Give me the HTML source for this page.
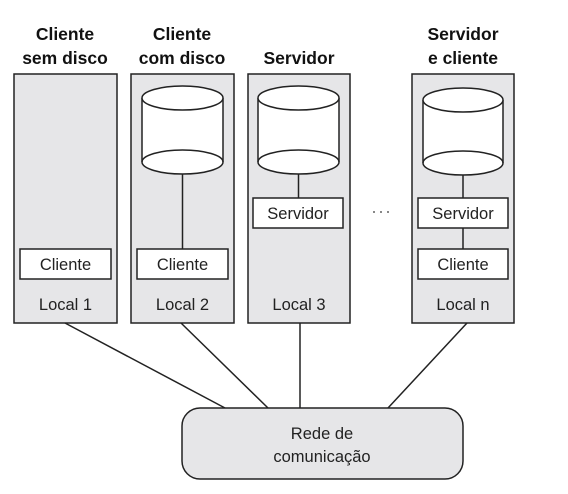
<!DOCTYPE html>
<html><head><meta charset="utf-8"><style>
html,body{margin:0;padding:0;background:#fff;}
svg{display:block;font-family:"Liberation Sans",Arial,sans-serif;}
</style></head><body>
<svg width="568" height="494" viewBox="0 0 568 494" xmlns="http://www.w3.org/2000/svg">
<g font-weight="bold" font-size="17.5" fill="#111" text-anchor="middle">
<text x="65" y="40">Cliente</text><text x="65" y="64">sem disco</text>
<text x="182" y="40">Cliente</text><text x="182" y="64">com disco</text>
<text x="299" y="64">Servidor</text>
<text x="463" y="40">Servidor</text><text x="463" y="64">e cliente</text>
</g>
<g stroke="#222" stroke-width="1.5" fill="#e6e6e8">
<rect x="14" y="74" width="103" height="249"/>
<rect x="131" y="74" width="103" height="249"/>
<rect x="248" y="74" width="102" height="249"/>
<rect x="412" y="74" width="102" height="249"/>
</g>
<g stroke="#222" stroke-width="1.5" fill="#fff">
<path d="M142 98 V162 A40.5 12 0 0 0 223 162 V98"/>
<ellipse cx="182.5" cy="98" rx="40.5" ry="12"/>
<path d="M142 162 A40.5 12 0 0 1 223 162" fill="none"/>
<path d="M258 98 V162 A40.5 12 0 0 0 339 162 V98"/>
<ellipse cx="298.5" cy="98" rx="40.5" ry="12"/>
<path d="M258 162 A40.5 12 0 0 1 339 162" fill="none"/>
<path d="M423 100 V163 A40 12 0 0 0 503 163 V100"/>
<ellipse cx="463" cy="100" rx="40" ry="12"/>
<path d="M423 163 A40 12 0 0 1 503 163" fill="none"/>
</g>
<g stroke="#222" stroke-width="1.5">
<line x1="182.5" y1="174" x2="182.5" y2="249"/>
<line x1="298.5" y1="174" x2="298.5" y2="198"/>
<line x1="463" y1="175" x2="463" y2="198"/>
<line x1="463" y1="228" x2="463" y2="249"/>
<line x1="65" y1="323" x2="225" y2="408"/>
<line x1="181" y1="323" x2="268" y2="408"/>
<line x1="300" y1="323" x2="300" y2="408"/>
<line x1="467" y1="323" x2="388" y2="408"/>
</g>
<g stroke="#222" stroke-width="1.5" fill="#fff">
<rect x="20" y="249" width="91" height="30"/>
<rect x="137" y="249" width="91" height="30"/>
<rect x="253" y="198" width="90" height="30"/>
<rect x="418" y="198" width="90" height="30"/>
<rect x="418" y="249" width="90" height="30"/>
</g>
<g font-size="16.5" fill="#222" text-anchor="middle">
<text x="65.5" y="270">Cliente</text>
<text x="182.5" y="270">Cliente</text>
<text x="298" y="219">Servidor</text>
<text x="463" y="219">Servidor</text>
<text x="463" y="270">Cliente</text>
<text x="65.5" y="310">Local 1</text>
<text x="182.5" y="310">Local 2</text>
<text x="299" y="310">Local 3</text>
<text x="463" y="310">Local n</text>
</g>
<g fill="#333"><circle cx="374" cy="212" r="0.9"/><circle cx="381" cy="212" r="0.9"/><circle cx="388" cy="212" r="0.9"/></g>
<rect x="182" y="408" width="281" height="71" rx="18" fill="#e6e6e8" stroke="#222" stroke-width="1.5"/>
<g font-size="16.5" fill="#222" text-anchor="middle">
<text x="322" y="439">Rede de</text>
<text x="322" y="462">comunicação</text>
</g>
</svg>
</body></html>
